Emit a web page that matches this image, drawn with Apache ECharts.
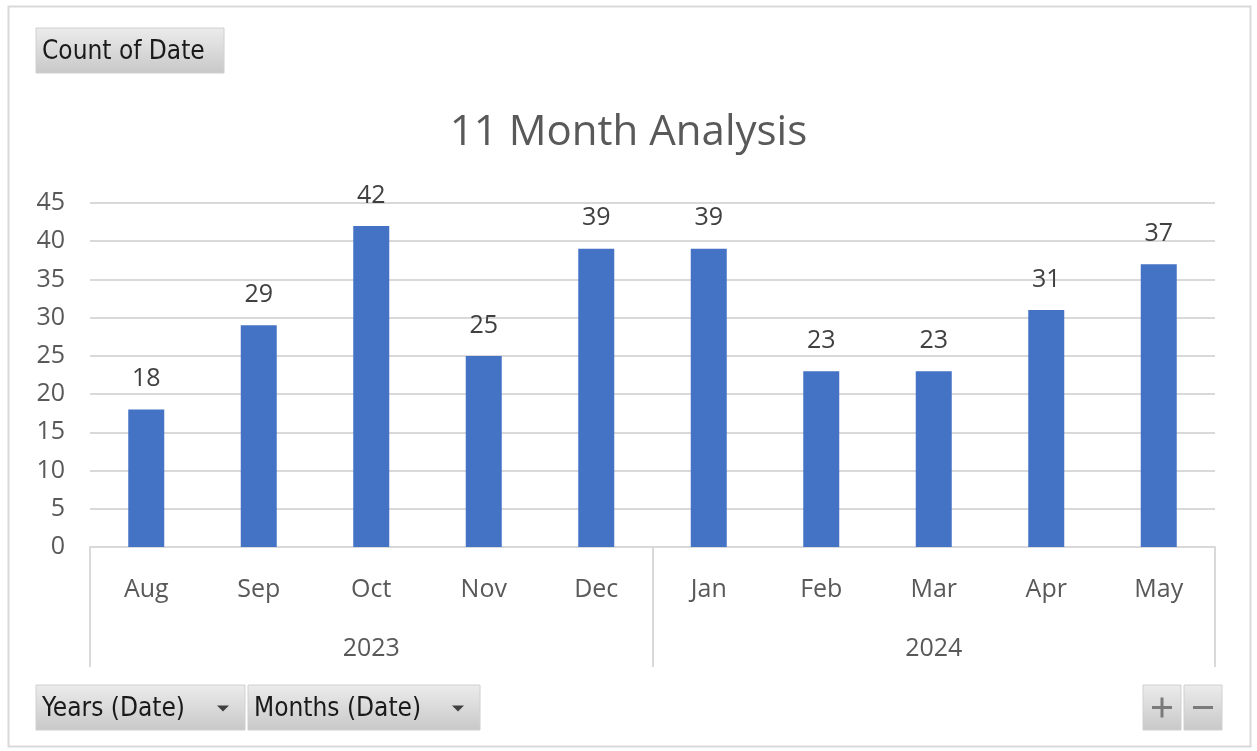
<!DOCTYPE html>
<html>
<head>
<meta charset="utf-8">
<script src="https://cdn.jsdelivr.net/npm/echarts@6/dist/echarts.min.js"></script>
<style>
  html, body { margin: 0; padding: 0; background: #fff; }
  #chart { width: 1257px; height: 751px; }
</style>
</head>
<body>
<div id="chart"></div>
<script>
const months = ['Aug', 'Sep', 'Oct', 'Nov', 'Dec', 'Jan', 'Feb', 'Mar', 'Apr', 'May'];
const years = ['2023', '2024'];
const counts = [18, 29, 42, 25, 39, 39, 23, 23, 31, 37];
const yTicks = { min: 0, max: 45, step: 5 };

const font = 'Open Sans';
const textGray = '#595959';

// pivot field buttons, just decoration
function fieldButton(x, y, w, h, label, withArrow) {
  const children = [{
    type: 'rect',
    shape: { x: 0, y: 0, width: w, height: h },
    style: {
      fill: new echarts.graphic.LinearGradient(0, 0, 0, 1, [
        { offset: 0, color: '#ececec' },
        { offset: 1, color: '#c8c8c8' }
      ]),
      stroke: '#d0d0d0', lineWidth: 1
    }
  }];
  if (label) {
    children.push({
      type: 'text',
      style: { x: 6, y: h / 2 + 2, text: label, fill: '#1a1a1a', font: '26px "DejaVu Sans Condensed", "Noto Sans"', verticalAlign: 'middle' }
    });
  }
  if (withArrow) {
    children.push({
      type: 'polygon',
      shape: { points: [[w - 28, h / 2 - 2], [w - 16, h / 2 - 2], [w - 22, h / 2 + 4]] },
      style: { fill: '#404040' }
    });
  }
  return { type: 'group', x, y, children };
}

const chart = echarts.init(document.getElementById('chart'));
chart.setOption({
  animation: false,
  title: {
    text: '11 Month Analysis',
    left: 'center',
    top: 107,
    textStyle: { fontFamily: font, fontSize: 42, fontWeight: 'normal', color: textGray }
  },
  grid: { left: 90, right: 42, top: 203, bottom: 204, containLabel: false },
  xAxis: [
    {
      type: 'category',
      data: months,
      axisLine: { lineStyle: { color: '#d9d9d9', width: 2 } },
      axisTick: { show: false },
      axisLabel: { fontFamily: font, fontSize: 25, color: textGray, margin: 30 }
    },
    {
      type: 'category',
      data: years,
      position: 'bottom',
      axisLine: { show: false },
      axisTick: { show: true, length: 120, lineStyle: { color: '#d9d9d9', width: 2 } },
      axisLabel: { fontFamily: font, fontSize: 25, color: textGray, margin: 89 }
    }
  ],
  yAxis: {
    type: 'value',
    min: yTicks.min,
    max: yTicks.max,
    interval: yTicks.step,
    axisLine: { show: false },
    axisTick: { show: false },
    splitLine: { lineStyle: { color: '#d9d9d9', width: 2 } },
    axisLabel: { fontFamily: font, fontSize: 25, color: textGray, margin: 25 }
  },
  series: [{
    type: 'bar',
    data: counts,
    barWidth: '32%',
    itemStyle: { color: '#4472c4' },
    label: {
      show: true,
      position: 'top',
      distance: 18,
      fontFamily: font,
      fontSize: 25,
      color: '#404040'
    }
  }],
  graphic: [
    {
      type: 'rect',
      shape: { x: 8.5, y: 6.5, width: 1242, height: 740 },
      style: { fill: 'none', stroke: '#d9d9d9', lineWidth: 2 },
      z: -1
    },
    fieldButton(36, 28, 188, 45, 'Count of Date', false),
    fieldButton(36, 685, 209, 45, 'Years (Date)', true),
    fieldButton(248, 685, 232, 45, 'Months (Date)', true),
    fieldButton(1143, 685, 38, 45, '', false),
    fieldButton(1184, 685, 38, 45, '', false),
    {
      type: 'group', x: 1143, y: 685,
      children: [
        { type: 'rect', shape: { x: 9, y: 21, width: 20, height: 3 }, style: { fill: '#7a7a7a' } },
        { type: 'rect', shape: { x: 17.5, y: 12.5, width: 3, height: 20 }, style: { fill: '#7a7a7a' } },
        { type: 'rect', shape: { x: 50, y: 21, width: 20, height: 3 }, style: { fill: '#7a7a7a' } }
      ]
    }
  ]
});
</script>
</body>
</html>
